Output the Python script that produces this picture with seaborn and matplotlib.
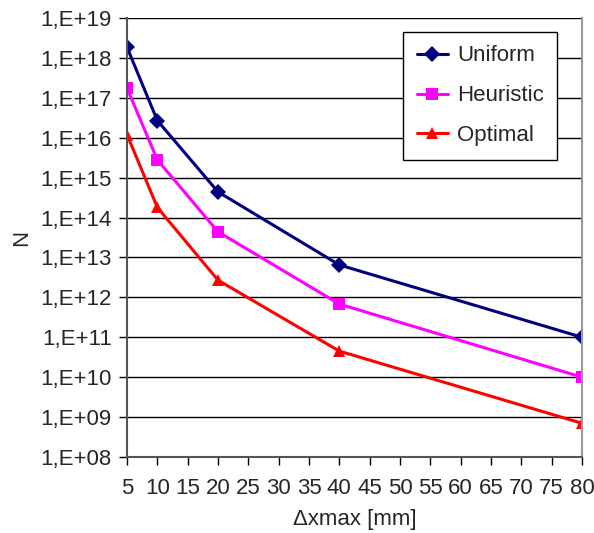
import numpy as np
import pandas as pd
import matplotlib
matplotlib.use("Agg")
import matplotlib.pyplot as plt
import seaborn as sns
from matplotlib.ticker import FuncFormatter, LogLocator, NullLocator

dx = [5, 10, 20, 40, 80]
uniform = [1.85e18, 2.7e16, 4.4e14, 6.5e12, 1.0e11]
heuristic = [1.75e17, 2.8e15, 4.4e13, 6.8e11, 1.0e10]
optimal = [1.2e16, 1.8e14, 2.7e12, 4.5e10, 7.0e8]
series_names = ["Uniform", "Heuristic", "Optimal"]
x_ticks = list(range(5, 85, 5))

df = pd.DataFrame({
    "dx": dx * 3,
    "N": uniform + heuristic + optimal,
    "series": [s for s in series_names for _ in dx],
})

sns.set_style("white")
plt.rcParams["font.family"] = ["Liberation Sans", "DejaVu Sans"]

fig = plt.figure(figsize=(5.94, 5.33), dpi=100)
ax = fig.add_axes([0.2138, 0.1426, 0.9798 - 0.2138, 0.9662 - 0.1426])

palette = {"Uniform": "#000080", "Heuristic": "#FF00FF", "Optimal": "#FF0000"}
markers = {"Uniform": "D", "Heuristic": "s", "Optimal": "^"}

sns.lineplot(data=df, x="dx", y="N", hue="series", style="series",
             palette=palette, markers=markers, dashes=False,
             linewidth=2.2, markersize=8.5, markeredgewidth=0, ax=ax)

ax.set_yscale("log")
ax.set_ylim(1e8, 1e19)
ax.set_xlim(5, 80)
ax.yaxis.set_major_locator(LogLocator(base=10, numticks=20))
ax.yaxis.set_minor_locator(NullLocator())
ax.yaxis.set_major_formatter(FuncFormatter(lambda v, p: "1,E+%02d" % round(np.log10(v))))
ax.set_xticks(x_ticks)

ax.grid(axis="y", color="black", linewidth=1)
ax.grid(axis="x", visible=False)
ax.set_axisbelow(True)

ax.spines["top"].set_visible(False)
ax.spines["left"].set_color("#555555")
ax.spines["bottom"].set_color("#555555")
ax.spines["right"].set_color("#999999")
for s in ["left", "bottom", "right"]:
    ax.spines[s].set_linewidth(1.5)

ax.tick_params(axis="both", direction="out", length=6, width=1, color="black",
               labelsize=16, left=True, bottom=True)
ax.tick_params(axis="x", pad=9)
ax.tick_params(axis="y", pad=5)
ax.set_xlabel("\u0394xmax [mm]", fontsize=16, labelpad=7)
ax.set_ylabel("N", fontsize=16, labelpad=6)

leg = ax.legend(loc="upper right", bbox_to_anchor=(0.945, 0.968), fontsize=16,
                frameon=True, fancybox=False, handlelength=1.4, labelspacing=0.85,
                borderpad=0.6, handletextpad=0.4, borderaxespad=0)
leg.get_frame().set_edgecolor("black")
leg.get_frame().set_linewidth(1)
leg.get_frame().set_alpha(1)

fig.savefig("out.png", dpi=100)
